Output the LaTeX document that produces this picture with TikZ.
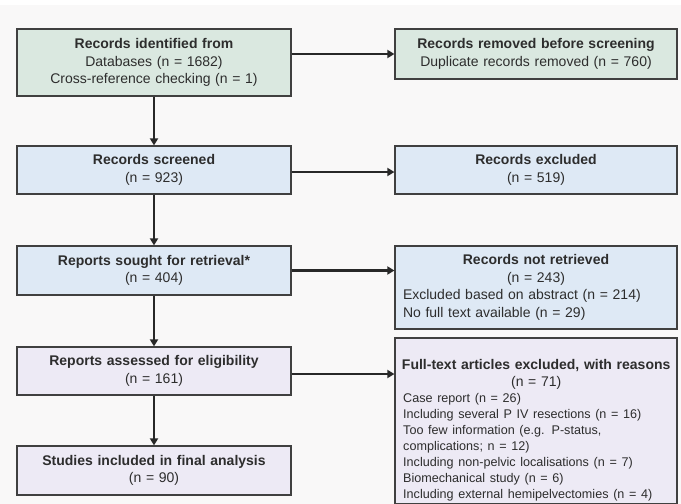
\documentclass[tikz,border=0pt]{standalone}
\usepackage{fontspec}
\setmainfont{Liberation Sans}
\usetikzlibrary{arrows.meta}
\definecolor{bgcol}{RGB}{249,248,248}
\definecolor{greenbox}{RGB}{218,232,224}
\definecolor{bluebox}{RGB}{222,233,245}
\definecolor{purplebox}{RGB}{237,234,245}
\definecolor{bordercol}{RGB}{64,64,64}
\definecolor{textcol}{RGB}{45,45,45}
\definecolor{arrowcol}{RGB}{40,40,40}
\tikzset{
  basebox/.style={draw=bordercol, line width=1.2pt, inner ysep=0pt, inner xsep=8pt,
    align=center, text=textcol, font=\fontsize{14}{17.5}\selectfont},
  leftbox/.style={basebox, text width=258pt},
  rightbox/.style={basebox, text width=266pt},
  conn/.style={draw=arrowcol, line width=2.8pt, -{Triangle[length=7pt,width=8pt]}},
}
\begin{document}
\begin{tikzpicture}[x=1pt,y=-1pt]
\useasboundingbox (0,0) rectangle (681,504);
\fill[bgcol] (0,5) rectangle (681,504);

% left column
\node[leftbox, fill=greenbox, minimum height=67pt] (b1) at (154,62.5)
  {\textbf{Records identified from}\\Databases (n = 1682)\\Cross-reference checking (n = 1)};
\node[leftbox, fill=bluebox, minimum height=48pt] (b2) at (154,170)
  {\textbf{Records screened}\\(n = 923)};
\node[leftbox, fill=bluebox, minimum height=49pt] (b3) at (154,270.5)
  {\textbf{Reports sought for retrieval*}\\(n = 404)};
\node[leftbox, fill=purplebox, minimum height=48pt] (b4) at (154,371)
  {\textbf{Reports assessed for eligibility}\\(n = 161)};
\node[leftbox, fill=purplebox, minimum height=49pt] (b5) at (154,470.5)
  {\textbf{Studies included in final analysis}\\(n = 90)};

% right column
\node[rightbox, fill=greenbox, minimum height=50pt] (r1) at (536,54)
  {\textbf{Records removed before screening}\\Duplicate records removed (n = 760)};
\node[rightbox, fill=bluebox, minimum height=48pt] (r2) at (536,170)
  {\textbf{Records excluded}\\(n = 519)};
\node[rightbox, fill=bluebox, minimum height=83pt, align=left] (r3) at (536,287.5)
  {{\centering\textbf{Records not retrieved}\\(n = 243)\par}
   Excluded based on abstract (n = 214)\\No full text available (n = 29)};
\node[rightbox, fill=purplebox, minimum height=166pt] (r4) at (536,421) {};
\node[anchor=north west, inner sep=0pt, text width=266pt, align=left, text=textcol,
      font=\fontsize{14}{17}\selectfont] (r4t) at (403,359)
  {\makebox[266pt][c]{\textbf{Full-text articles excluded, with reasons}}\\
   \makebox[266pt][c]{(n = 71)}\par
   {\fontsize{12.6}{16}\selectfont
   Case report (n = 26)\\
   Including several P IV resections (n = 16)\\
   Too few information (e.g. P-status,\\
   complications; n = 12)\\
   Including non-pelvic localisations (n = 7)\\
   Biomechanical study (n = 6)\\
   Including external hemipelvectomies (n = 4)\par}};

% connectors
\draw[conn] (b1) -- (b2);
\draw[conn] (b2) -- (b3);
\draw[conn] (b3) -- (b4);
\draw[conn] (b4) -- (b5);
\draw[conn] (b1.east |- r1.west) -- (r1.west);
\draw[conn] ([yshift=-2pt]b2.east) -- ([yshift=-2pt]b2.east -| r2.west);
\draw[conn] (b3.east) -- (b3.east -| r3.west);
\draw[conn] ([yshift=-3pt]b4.east) -- ([yshift=-3pt]b4.east -| r4.west);
\end{tikzpicture}
\end{document}
